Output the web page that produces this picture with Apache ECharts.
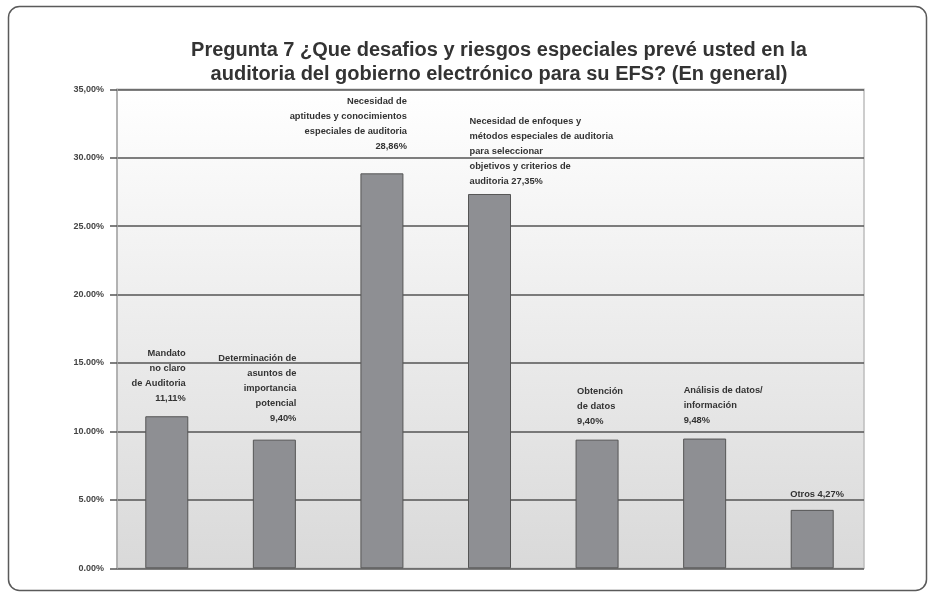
<!DOCTYPE html>
<html><head><meta charset="utf-8">
<script src="https://cdn.jsdelivr.net/npm/echarts@6/dist/echarts.min.js"></script>
<style>html,body{margin:0;padding:0;background:#fff}#c{width:931px;height:593px}</style>
</head><body><div id="c"></div>
<script>
const categories = ["Mandato no claro de Auditoria","Determinación de asuntos de importancia potencial","Necesidad de aptitudes y conocimientos especiales de auditoria","Necesidad de enfoques y métodos especiales de auditoria para seleccionar objetivos y criterios de auditoria","Obtención de datos","Análisis de datos/ información","Otros"];
const values = [11.11, 9.40, 28.86, 27.35, 9.40, 9.48, 4.27];
const labels = [
  "Mandato\nno claro\nde Auditoria\n11,11%",
  "Determinación de\nasuntos de\nimportancia\npotencial\n9,40%",
  "Necesidad de\naptitudes y conocimientos\nespeciales de auditoria\n28,86%",
  "Necesidad de enfoques y\nmétodos especiales de auditoria\npara seleccionar\nobjetivos y criterios de\nauditoria 27,35%",
  "Obtención\nde datos\n9,40%",
  "Análisis de datos/\ninformación\n9,48%",
  "Otros 4,27%"
];
const yTicks = ["0.00%","5.00%","10.00%","15.00%","20.00%","25.00%","30.00%","35,00%"];
const titleLines = ["Pregunta 7 ¿Que desafios y riesgos especiales prevé usted en la","auditoria del gobierno electrónico para su EFS? (En general)"];

const labelStyle = [
  {align:'right', offset:[19,-5]},
  {align:'right', offset:[22,-9]},
  {align:'right', offset:[25,-14]},
  {align:'left', offset:[-20,0]},
  {align:'left', offset:[-20,-6]},
  {align:'left', offset:[-21,-6]},
  {align:'left', offset:[-22,-3]}
];
const labelFont = "'Liberation Sans', Arial, sans-serif";

const chart = echarts.init(document.getElementById('c'));
chart.setOption({
  animation:false,
  title:{text:titleLines.join('\n'), left:494, textAlign:'center', top:33,
    textStyle:{fontFamily:'Liberation Sans', fontWeight:'bold', fontSize:20, color:'#333', lineHeight:24}},
  graphic:[{type:'rect', left:6, top:4, shape:{width:918, height:584, r:11}, style:{fill:'none', stroke:'#5a5a5a', lineWidth:1.5}, z:-1}],
  grid:[
    {left:117, right:67, top:89.3, bottom:24.7, show:true, borderWidth:1.5, borderColor:'#bdbdbd',
      backgroundColor:new echarts.graphic.LinearGradient(0,0,0,1,[{offset:0,color:'#ffffff'},{offset:1,color:'#d9d9d9'}])},
    {left:113, right:65, top:89.3, bottom:24.7}
  ],
  xAxis:[
    {type:'category', gridIndex:0, data:categories, show:false},
    {type:'category', gridIndex:1, data:categories, axisLine:{show:false}, axisTick:{show:false}, axisLabel:{show:false}}
  ],
  yAxis:[
    {type:'value', gridIndex:0, min:0, max:35, interval:5,
      axisLine:{show:true, lineStyle:{color:'#aaa', width:1.5}},
      axisTick:{show:true, length:7, lineStyle:{color:'#555', width:1.5}},
      axisLabel:{margin:13, fontFamily:labelFont, fontSize:9, fontWeight:'bold', color:'#444',
        formatter:(v)=>yTicks[Math.round(v/5)]},
      splitLine:{show:true, lineStyle:{color:'#555', width:1.5}}},
    {type:'value', gridIndex:1, min:0, max:35, interval:5, show:false, splitLine:{show:false}}
  ],
  series:[{
    type:'bar', xAxisIndex:1, yAxisIndex:1, barWidth:43,
    itemStyle:{color:'#8e8f93', borderColor:'#555', borderWidth:1},
    data:values.map((v,i)=>({value:v, label:{show:true, position:'top', formatter:labels[i],
      align:labelStyle[i].align, offset:labelStyle[i].offset,
      fontFamily:labelFont, fontSize:9.3, fontWeight:'bold', color:'#333', lineHeight:15}}))
  }]
});
</script></body></html>
